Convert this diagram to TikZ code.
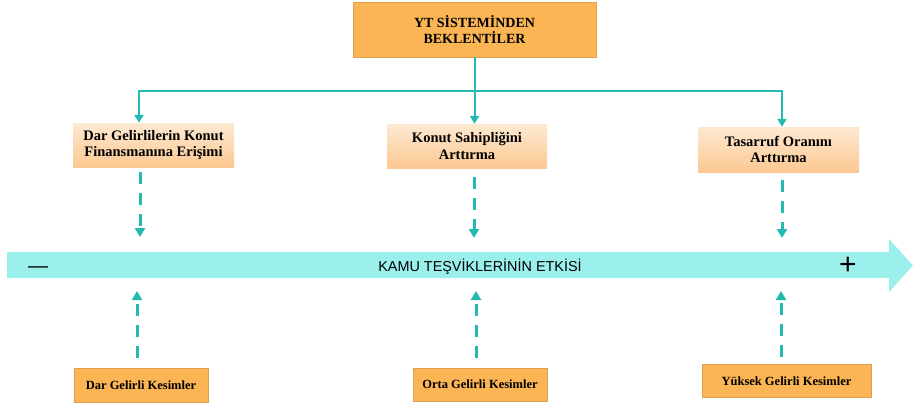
\documentclass[tikz,border=0pt]{standalone}
\usepackage{fontspec}
\setmainfont{Liberation Serif}
\newfontfamily\arialfont{Liberation Sans}
\usetikzlibrary{arrows.meta}

\definecolor{boxorange}{RGB}{251,181,84}
\definecolor{boxedge}{RGB}{222,160,80}
\definecolor{peachtop}{RGB}{253,233,210}
\definecolor{peachbot}{RGB}{252,200,145}
\definecolor{linkteal}{RGB}{36,186,178}
\definecolor{bandcyan}{RGB}{155,240,235}

\begin{document}
\begin{tikzpicture}[x=1pt,y=-1pt,
  topbox/.style={draw=boxedge, line width=0.8pt, fill=boxorange, align=center,
    inner sep=0pt, font=\bfseries\fontsize{14}{16}\selectfont},
  goalbox/.style={top color=peachtop, bottom color=peachbot, align=center,
    inner sep=0pt, font=\bfseries\fontsize{14.5}{16.5}\selectfont},
  groupbox/.style={draw=boxedge, line width=0.8pt, fill=boxorange,
    inner sep=0pt, font=\bfseries\fontsize{12.5}{15}\selectfont},
  link/.style={draw=linkteal, line width=2pt, -{Triangle[length=8pt,width=9pt]}},
  dasharrow/.style={draw=linkteal, line width=3pt, dash pattern=on 12pt off 9pt,
    -{Triangle[length=9pt,width=10pt]}},
]
\useasboundingbox (0,0) rectangle (914,405);

% top box
\node[topbox, minimum width=243pt, minimum height=55pt] (top) at (474.5,29.5)
  {YT SİSTEMİNDEN\\BEKLENTİLER};

% expectation boxes
\node[goalbox, minimum width=161pt, minimum height=44pt] (m1) at (153.5,145)
  {Dar Gelirlilerin Konut\\Finansmanına Erişimi};
\node[goalbox, minimum width=160pt, minimum height=44pt] (m2) at (467,146)
  {Konut Sahipliğini\\Arttırma};
\node[goalbox, minimum width=161pt, minimum height=45pt] (m3) at (778.5,149.5)
  {Tasarruf Oranını\\Arttırma};

% income groups
\node[groupbox, minimum width=134pt, minimum height=34pt] (b1) at (141,385)
  {Dar Gelirli Kesimler};
\node[groupbox, minimum width=134pt, minimum height=33pt] (b2) at (480,384.5)
  {Orta Gelirli Kesimler};
\node[groupbox, minimum width=169pt, minimum height=33pt] (b3) at (786.5,381)
  {Yüksek Gelirli Kesimler};

% band arrow
\fill[bandcyan] (7,252) -- (889,252) -- (889,239) -- (913,265.5) -- (889,292)
  -- (889,278) -- (7,278) -- cycle;
\node[font=\arialfont\fontsize{14.4}{14.4}\selectfont] (band) at (480,267)
  {KAMU TEŞVİKLERİNİN ETKİSİ};
\node[font=\arialfont\fontsize{20}{20}\selectfont] (minus) at (38,270) {—};
\node[font=\arialfont\fontsize{30}{30}\selectfont] (plus) at (848,266) {+};

% branching connector
\coordinate (j1) at (139,91);
\coordinate (j3) at (782,91);
\draw[link] (top.south) |- (j1) -- (j1 |- m1.north);
\draw[link] (top.south) |- (j3) -- (j3 |- m3.north);
\draw[link] (top.south) -- (top.south |- m2.north);

% effect arrows towards the band
\coordinate (u1) at (140,237);
\coordinate (u2) at (474,238);
\coordinate (u3) at (782,238);
\draw[dasharrow, shorten <=5pt] (m1.south -| u1) -- (u1);
\draw[dasharrow, shorten <=9pt] (m2.south -| u2) -- (u2);
\draw[dasharrow, shorten <=8pt] (m3.south -| u3) -- (u3);

\coordinate (l1) at (137,291);
\coordinate (l2) at (476,291);
\coordinate (l3) at (781,291);
\draw[dasharrow, shorten <=10pt] (b1.north -| l1) -- (l1);
\draw[dasharrow, shorten <=10pt] (b2.north -| l2) -- (l2);
\draw[dasharrow, shorten <=7pt] (b3.north -| l3) -- (l3);
\end{tikzpicture}
\end{document}
